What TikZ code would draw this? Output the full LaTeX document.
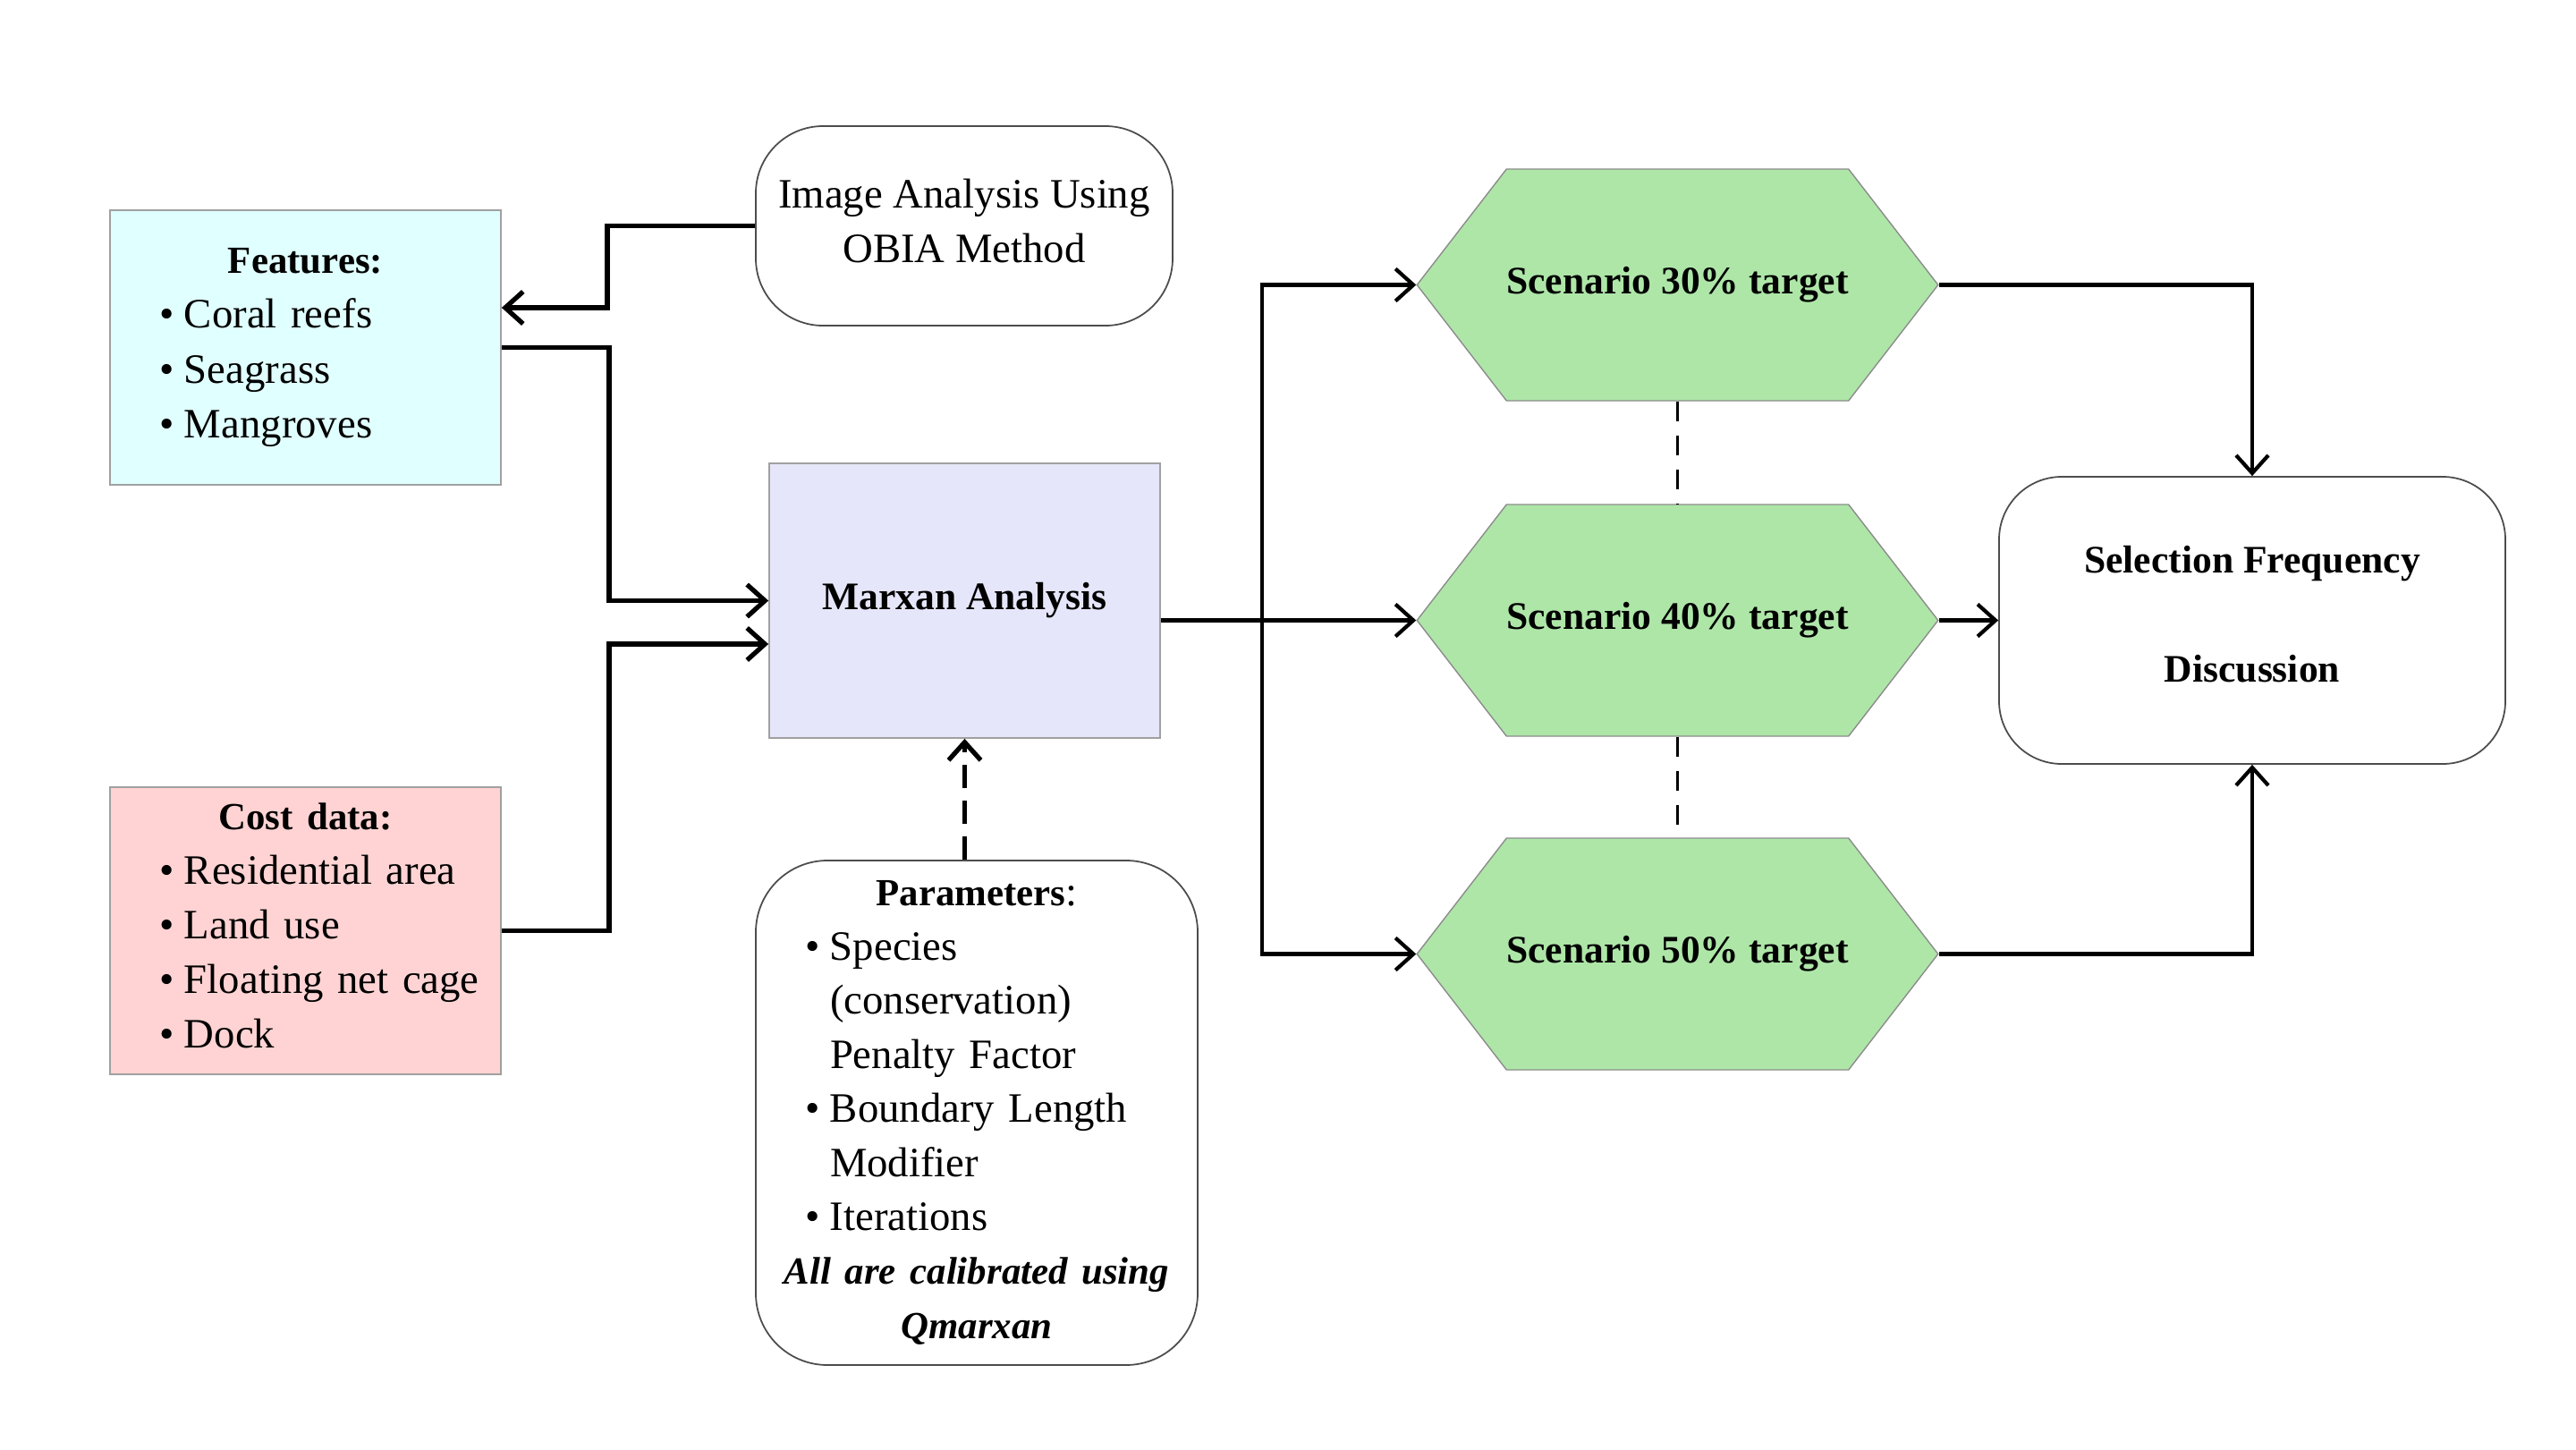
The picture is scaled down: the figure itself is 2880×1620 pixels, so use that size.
\documentclass[tikz,border=0pt]{standalone}
\usepackage{fontspec}
\setmainfont{Liberation Serif}
\usetikzlibrary{arrows.meta,shapes.symbols,calc}
\definecolor{featc}{HTML}{E0FFFF}
\definecolor{marxc}{HTML}{E6E6FA}
\definecolor{costc}{HTML}{FFD3D3}
\definecolor{hexc}{HTML}{AEE6A8}
\definecolor{bordc}{HTML}{A0A0A0}
\newcommand{\hd}[1]{{\fontsize{12.2}{17.2}\selectfont\bfseries #1}}
\newcommand{\itm}[1]{\hspace*{5.5mm}\makebox[2.8mm][l]{\textbullet}#1}
\begin{document}
\begin{tikzpicture}[x=0.1mm,y=-0.1mm,
  txt/.style={font=\fontsize{13.3}{17.2}\selectfont},
  btxt/.style={font=\fontsize{12.4}{17.2}\selectfont\bfseries},
  sqbox/.style={draw=bordc,line width=0.5pt,inner sep=0pt,txt},
  rbox/.style={draw=black!70,line width=0.5pt,rounded corners=7.5mm,inner sep=0pt},
  hexbox/.style={shape=signal,signal to=east and west,signal pointer angle=104.6,
     fill=hexc,draw=black!45,line width=0.4pt,minimum width=57.7mm,minimum height=25.9mm,
     inner sep=0pt,btxt},
  arrL/.style={line width=1.5pt,-{Straight Barb[length=2mm,width=3.6mm,line width=1.5pt]}},
  arrR/.style={line width=1.2pt,-{Straight Barb[length=2mm,width=3.6mm,line width=1.2pt]}},
  dline/.style={line width=1.1pt,dash pattern=on 2.2mm off 1.6mm}
]
\useasboundingbox (0,0) rectangle (2880,1620);

% boxes
\node[sqbox,fill=featc,font=\fontsize{13.3}{17.5}\selectfont,minimum width=43.7mm,minimum height=30.7mm,text width=43.7mm,align=left] (feat) at (341.5,388.5)
 {\makebox[\linewidth]{\hd{Features:}}\\
  \itm{Coral reefs}\\
  \itm{Seagrass}\\
  \itm{Mangroves}};

\node[sqbox,fill=costc,minimum width=43.7mm,minimum height=32.1mm] (cost) at (341.5,1040.5) {};
\node[font=\fontsize{13.3}{17.4}\selectfont,inner sep=0pt,text width=43.7mm,align=left] (costt) at ([yshift=0.55mm]cost.center)
 {\makebox[\linewidth]{\hd{Cost data:}}\\
  \itm{Residential area}\\
  \itm{Land use}\\
  \itm{Floating net cage}\\
  \itm{Dock}};

\node[rbox,minimum width=46.6mm,minimum height=22.3mm] (img) at (1078,252.5) {};
\node[txt,inner sep=0pt,align=center] (imgt) at ([yshift=0.55mm]img.center)
 {Image Analysis Using\\OBIA Method};

\node[sqbox,fill=marxc,minimum width=43.7mm,minimum height=30.7mm,btxt] (marx) at (1078.5,671.5)
 {Marxan Analysis};

\node[rbox,txt,rounded corners=8mm,minimum width=49.4mm,minimum height=56.4mm,text width=49.4mm,align=left] (param) at (1092,1244)
 {\makebox[\linewidth]{\hd{Parameters}:}\\
  \itm{Species}\\
  \hspace*{8.3mm}(conservation)\\
  \hspace*{8.3mm}Penalty Factor\\
  \itm{Boundary Length}\\
  \hspace*{8.3mm}Modifier\\
  \itm{Iterations}\\
  \makebox[\linewidth]{\hd{\itshape All are calibrated using}}\\
  \makebox[\linewidth]{\hd{\itshape Qmarxan}}};

\node[hexbox] (h30) at (1875.5,318.5) {Scenario 30\% target};
\node[hexbox] (h40) at (1875.5,693.5) {Scenario 40\% target};
\node[hexbox] (h50) at (1875.5,1066.5) {Scenario 50\% target};

\node[rbox,rounded corners=7mm,minimum width=56.6mm,minimum height=32.1mm] (sel) at (2518,693.5) {};
\node[btxt,inner sep=0pt,align=center] (selt) at ([yshift=0.7mm]sel.center)
 {Selection Frequency\\[6.1mm]Discussion};

\coordinate (trunk) at (1411,693.5);

% connectors
\draw[arrL] (img.west) -- ++(-165,0) |- ([yshift=4.45mm]feat.east);
\draw[arrL] (feat.east) -- ++(120,0) |- (marx.west);
\draw[arrL] (cost.east) -- ++(120,0) |- ([yshift=-4.85mm]marx.west);
\draw[arrL,dash pattern=on 2.6mm off 1.4mm] (param.north -| marx.south) -- (marx.south);

\draw[arrR] (marx.east |- h40.west) -- (h40.west);
\draw[arrR] (trunk) |- (h30.west);
\draw[arrR] (trunk) |- (h50.west);
\draw[arrR] (h30.east) -| (sel.north);
\draw[arrR] (h40.east) -- (sel.west);
\draw[arrR] (h50.east) -| (sel.south);
\draw[dline] (h30.south) -- (h40.north);
\draw[dline] (h40.south) -- (h50.north);
\end{tikzpicture}
\end{document}
